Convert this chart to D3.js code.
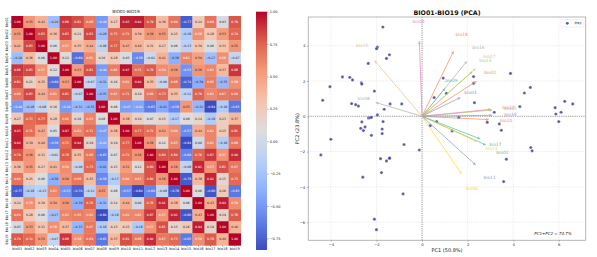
<!DOCTYPE html>
<html>
<head>
<meta charset="utf-8">
<script src="https://cdn.jsdelivr.net/npm/d3@7"></script>
<style>
  html, body { margin: 0; padding: 0; background: #fff; }
  svg { display: block; font-family: "DejaVu Sans", sans-serif; }
</style>
</head>
<body>
<svg id="chart" width="597" height="257"></svg>
<script>
// ---------------- DATA ----------------
const variables = ["bio01","bio02","bio03","bio04","bio05","bio06","bio07","bio08","bio09","bio10",
                   "bio11","bio12","bio13","bio14","bio15","bio16","bio17","bio18","bio19"];

const corr = [
 [1.00,0.55,0.42,-0.29,0.88,0.82,0.68,-0.49,0.27,0.93,0.94,0.79,0.36,0.69,-0.77,0.24,0.69,0.03,0.79],
 [0.55,1.00,0.83,0.36,0.83,0.21,0.83,-0.28,0.73,0.71,0.39,0.56,0.55,0.25,-0.18,0.58,0.28,0.53,0.74],
 [0.42,0.83,1.00,0.06,0.57,0.35,0.44,-0.08,0.77,0.47,0.40,0.31,0.27,0.06,-0.13,0.30,0.06,0.31,0.55],
 [-0.29,0.36,0.06,1.00,0.12,-0.69,0.61,0.16,0.28,0.05,-0.58,-0.02,0.41,-0.38,0.62,0.50,-0.27,0.58,-0.07],
 [0.88,0.83,0.57,0.12,1.00,0.53,0.81,-0.49,0.66,0.97,0.71,0.78,0.59,0.56,-0.53,0.56,0.62,0.37,0.88],
 [0.82,0.21,0.35,-0.69,0.53,1.00,-0.07,-0.32,0.16,0.62,0.94,0.35,-0.06,0.68,-0.74,-0.39,0.65,-0.33,0.58],
 [0.68,0.83,0.44,0.61,0.81,-0.07,1.00,-0.35,0.63,0.71,0.19,0.68,0.73,0.35,-0.12,0.76,0.62,0.67,0.69],
 [-0.49,-0.28,-0.08,0.16,-0.49,-0.32,-0.35,1.00,0.08,-0.47,-0.44,-0.63,-0.41,-0.58,0.55,-0.32,-0.84,-0.18,-0.65],
 [0.27,0.73,0.77,0.28,0.66,0.16,0.63,0.08,1.00,0.38,0.19,0.07,0.15,-0.17,0.08,0.14,-0.18,0.23,0.37],
 [0.93,0.71,0.47,0.05,0.97,0.62,0.71,-0.47,0.38,1.00,0.77,0.71,0.52,0.60,-0.57,0.44,0.62,0.25,0.81],
 [0.94,0.39,0.40,-0.58,0.71,0.94,0.19,-0.44,0.19,0.77,1.00,0.56,0.12,0.63,-0.84,0.00,0.62,-0.18,0.68],
 [0.79,0.56,0.31,-0.02,0.78,0.35,0.68,-0.63,0.07,0.71,0.56,1.00,0.80,0.80,-0.60,0.76,0.87,0.57,0.90],
 [0.36,0.55,0.27,0.41,0.59,-0.06,0.73,-0.41,0.15,0.52,0.12,0.80,1.00,0.56,-0.08,0.91,0.57,0.81,0.67],
 [0.69,0.25,0.06,-0.38,0.56,0.68,0.35,-0.58,-0.17,0.60,0.63,0.80,0.56,1.00,-0.78,0.38,0.92,0.15,0.73],
 [-0.77,-0.18,-0.13,0.62,-0.53,-0.74,-0.12,0.55,0.08,-0.57,-0.84,-0.60,-0.08,-0.78,1.00,0.06,-0.80,0.26,-0.65],
 [0.24,0.58,0.30,0.50,0.56,-0.39,0.76,-0.32,0.14,0.44,0.00,0.76,0.91,0.38,0.06,1.00,0.43,0.94,0.59],
 [0.69,0.28,0.06,-0.27,0.62,0.65,0.62,-0.84,-0.18,0.62,0.62,0.87,0.57,0.92,-0.80,0.43,1.00,0.19,0.78],
 [0.03,0.53,0.31,0.58,0.37,-0.33,0.67,-0.18,0.23,0.25,-0.18,0.57,0.81,0.15,0.26,0.94,0.19,1.00,0.40],
 [0.79,0.74,0.55,-0.07,0.88,0.58,0.69,-0.65,0.37,0.81,0.68,0.90,0.67,0.73,-0.65,0.59,0.78,0.40,1.00]
];

const colorbarTicks = [1.00, 0.75, 0.50, 0.25, 0.00, -0.25, -0.50, -0.75];

// PCA sample scores (PC1, PC2)
const scorePC1 = [-1.72,-1.96,-2.00,-1.43,-1.56,-2.36,-3.49,-3.17,-3.05,-4.04,-2.66,-2.64,-2.09,-4.36,-3.09,-2.91,-2.79,-1.40,-0.89,-1.66,
                  -1.96,-2.35,-2.28,-2.22,-2.64,-1.71,-2.69,-2.50,-2.57,-1.75,-1.75,-2.22,-4.00,-0.79,-0.12,-4.44,-1.82,-1.42,-1.43,-1.56,
                  -1.78,-2.60,-0.83,-2.09,-2.00,
                  0.36,0.53,0.93,1.07,0.64,2.26,2.26,3.88,4.75,4.49,2.30,4.29,3.17,6.26,6.61,5.84,5.87,6.10,6.00,1.61,
                  2.86,3.39,3.48,1.32,4.77,4.83,3.70,3.58];
const scorePC2 = [5.06,3.92,3.83,3.49,3.28,3.00,2.23,2.21,2.06,1.68,1.89,1.83,1.43,0.91,0.72,0.66,0.58,0.70,0.70,0.40,
                  0.08,-0.09,-0.08,-0.06,-0.32,-0.30,-0.68,-0.60,-0.81,-0.72,-0.98,-1.08,-1.30,-1.60,-1.91,-2.19,-2.40,-2.36,-2.38,-2.53,
                  -3.19,-3.45,-4.40,-5.83,-6.43,
                  -0.53,1.06,2.17,1.30,-0.30,2.25,1.87,2.43,1.64,1.32,0.77,0.55,0.23,0.85,0.70,0.49,0.13,0.23,-0.30,-0.06,
                  -0.34,-0.43,-0.79,-0.83,-1.77,-1.96,-2.43,-3.70];

// loadings (scaled) per variable
const loadPC1 = [2.82,2.40,1.70,-0.12,3.10,1.75,2.36,-2.05,1.03,2.95,2.37,3.03,2.22,2.44,-2.10,1.98,2.57,1.39,3.10];
const loadPC2 = [-1.64,2.00,1.08,4.28,0.36,-3.29,2.73,0.79,1.61,-0.19,-2.78,0.40,2.55,-1.46,3.19,3.14,-1.29,3.72,0.06];

const arrowPalette = ["#66c2a5","#fc8d62","#8da0cb","#e78ac3","#a6d854","#ffd92f","#e5c494","#b3b3b3"];

const pcXTicks = [-4,-2,0,2,4,6];
const pcYTicks = [-6,-4,-2,0,2,4];
const pc1Pct = 50.8, pc2Pct = 23.8, pcSumPct = 74.7;
const legendLabel = "样本点";
const heatTitle = "BIO01-BIO19";
const pcaTitle = "BIO01-BIO19  (PCA)";

// ---------------- HELPERS ----------------
const svg = d3.select("#chart");
const fmt2 = d3.format(".2f");
const uminus = s => s.replace("-", "\u2212");

// coolwarm colormap approximation
const coolwarmStops = ["#3b4cc0","#6282ea","#8db0fe","#b8d0f9","#dddddd","#f5c4ad","#f49a7b","#de604d","#b40426"];
const coolwarm = d3.piecewise(d3.interpolateRgb, coolwarmStops);
const vmin = d3.min(corr.flat()), vmax = d3.max(corr.flat());
const cnorm = d3.scaleLinear().domain([vmin, vmax]).range([0, 1]).clamp(true);
const colorOf = v => coolwarm(cnorm(v));
function luminance(c) {
  const r = d3.rgb(c);
  const f = x => { x /= 255; return x <= 0.03928 ? x / 12.92 : Math.pow((x + 0.055) / 1.055, 2.4); };
  return 0.2126 * f(r.r) + 0.7152 * f(r.g) + 0.0722 * f(r.b);
}

// ---------------- HEATMAP ----------------
const hm = { left: 11.3, top: 16, size: 229.4 };
const xb = d3.scaleBand().domain(variables).range([hm.left, hm.left + hm.size]);
const yb = d3.scaleBand().domain(variables).range([hm.top, hm.top + hm.size]);

const cells = [];
corr.forEach((row, i) => row.forEach((v, j) => cells.push({ r: variables[i], c: variables[j], v })));

const gh = svg.append("g");
gh.selectAll("rect.cell").data(cells).join("rect")
  .attr("x", d => xb(d.c)).attr("y", d => yb(d.r))
  .attr("width", xb.bandwidth() + 0.3).attr("height", yb.bandwidth() + 0.3)
  .attr("fill", d => colorOf(d.v));

gh.selectAll("text.annot").data(cells).join("text")
  .attr("x", d => xb(d.c) + xb.bandwidth() / 2)
  .attr("y", d => yb(d.r) + yb.bandwidth() / 2)
  .attr("text-anchor", "middle").attr("dominant-baseline", "central")
  .attr("font-size", 3.1)
  .attr("fill", d => luminance(colorOf(d.v)) > 0.408 ? "#262626" : "#ffffff")
  .text(d => fmt2(d.v));

// axes
const hx = gh.append("g").attr("transform", `translate(0,${hm.top + hm.size})`)
  .call(d3.axisBottom(xb).tickSize(1.5).tickPadding(1));
hx.select(".domain").remove();
hx.selectAll("line").attr("stroke", "#333").attr("stroke-width", 0.4);
hx.selectAll("text").attr("font-size", 3.6).attr("font-family", "DejaVu Sans").attr("fill", "#222");

const hy = gh.append("g").attr("transform", `translate(${hm.left},0)`)
  .call(d3.axisLeft(yb).tickSize(1.5).tickPadding(1));
hy.select(".domain").remove();
hy.selectAll("line").attr("stroke", "#333").attr("stroke-width", 0.4);
hy.selectAll("text").attr("font-size", 3.6).attr("font-family", "DejaVu Sans").attr("fill", "#222")
  .attr("text-anchor", "middle").attr("dy", null)
  .attr("transform", function() { return "translate(" + (-4.5) + ",0) rotate(-90)"; })
  .attr("x", 0).attr("dominant-baseline", "central");

gh.append("text").attr("x", hm.left + hm.size / 2).attr("y", 12.5)
  .attr("text-anchor", "middle").attr("font-size", 4.3).attr("fill", "#222").text(heatTitle);

// colorbar
const cb = { x: 256, y0: 11.7, y1: 250, w: 11 };
const cbScale = d3.scaleLinear().domain([vmin, vmax]).range([cb.y1, cb.y0]);
const defs = svg.append("defs");
const grad = defs.append("linearGradient").attr("id", "cbgrad")
  .attr("x1", 0).attr("y1", 1).attr("x2", 0).attr("y2", 0);
d3.range(0, 1.0001, 0.05).forEach(t => grad.append("stop").attr("offset", t).attr("stop-color", coolwarm(t)));
svg.append("rect").attr("x", cb.x).attr("y", cb.y0).attr("width", cb.w).attr("height", cb.y1 - cb.y0)
  .attr("fill", "url(#cbgrad)");
const cbAxis = svg.append("g").attr("transform", `translate(${cb.x + cb.w},0)`)
  .call(d3.axisRight(cbScale).tickValues(colorbarTicks).tickSize(1.5).tickPadding(1.2)
        .tickFormat(d => uminus(fmt2(d))));
cbAxis.select(".domain").remove();
cbAxis.selectAll("line").attr("stroke", "#333").attr("stroke-width", 0.4);
cbAxis.selectAll("text").attr("font-size", 3.5).attr("font-family", "DejaVu Sans").attr("fill", "#222");

// ---------------- PCA BIPLOT ----------------
const pa = { left: 308.3, right: 585.7, top: 17, bottom: 240.3 };
const px = d3.scaleLinear().domain([-4.99, 7.18]).range([pa.left, pa.right]);
const py = d3.scaleLinear().domain([-7.03, 5.63]).range([pa.bottom, pa.top]);

const gp = svg.append("g");
// grid
gp.selectAll("line.gx").data(pcXTicks).join("line")
  .attr("x1", d => px(d)).attr("x2", d => px(d)).attr("y1", pa.top).attr("y2", pa.bottom)
  .attr("stroke", "#d0d0d0").attr("stroke-width", 0.5).attr("stroke-dasharray", "1,1.2");
gp.selectAll("line.gy").data(pcYTicks).join("line")
  .attr("y1", d => py(d)).attr("y2", d => py(d)).attr("x1", pa.left).attr("x2", pa.right)
  .attr("stroke", "#d0d0d0").attr("stroke-width", 0.5).attr("stroke-dasharray", "1,1.2");
// zero lines
gp.append("line").attr("x1", px(0)).attr("x2", px(0)).attr("y1", pa.top).attr("y2", pa.bottom)
  .attr("stroke", "#9a9a9a").attr("stroke-width", 0.9).attr("stroke-dasharray", "1.2,1");
gp.append("line").attr("y1", py(0)).attr("y2", py(0)).attr("x1", pa.left).attr("x2", pa.right)
  .attr("stroke", "#9a9a9a").attr("stroke-width", 0.9).attr("stroke-dasharray", "1.2,1");

// points
const pts = scorePC1.map((x, i) => ({ x, y: scorePC2[i] }));
gp.selectAll("circle.pt").data(pts).join("circle")
  .attr("cx", d => px(d.x)).attr("cy", d => py(d.y)).attr("r", 1.6)
  .attr("fill", "#3535a0").attr("fill-opacity", 0.82)
  .attr("stroke", "#ffffff").attr("stroke-width", 0.3);

// arrows
const loads = variables.map((name, i) => ({ name, x: loadPC1[i], y: loadPC2[i], color: arrowPalette[i % arrowPalette.length] }));
const ga = gp.append("g");
loads.forEach(d => {
  const x0 = px(0), y0 = py(0), x1 = px(d.x), y1 = py(d.y);
  const ang = Math.atan2(y1 - y0, x1 - x0);
  const hl = 3.2, hw = 1.4;
  const bx = x1 - hl * Math.cos(ang), by = y1 - hl * Math.sin(ang);
  ga.append("line").attr("x1", x0).attr("y1", y0).attr("x2", bx).attr("y2", by)
    .attr("stroke", d.color).attr("stroke-width", 0.9).attr("stroke-opacity", 0.85);
  const p1 = [bx + hw * Math.sin(ang), by - hw * Math.cos(ang)];
  const p2 = [bx - hw * Math.sin(ang), by + hw * Math.cos(ang)];
  ga.append("path").attr("d", `M${x1},${y1}L${p1[0]},${p1[1]}L${p2[0]},${p2[1]}Z`)
    .attr("fill", d.color).attr("fill-opacity", 0.85);
});
ga.selectAll("text.lab").data(loads).join("text")
  .attr("x", d => px(d.x * 1.25)).attr("y", d => py(d.y * 1.25))
  .attr("text-anchor", "middle").attr("dominant-baseline", "central")
  .attr("font-size", 4.4).attr("fill", d => d.color).text(d => d.name);

// frame
gp.append("rect").attr("x", pa.left).attr("y", pa.top).attr("width", pa.right - pa.left).attr("height", pa.bottom - pa.top)
  .attr("fill", "none").attr("stroke", "#b0b0b0").attr("stroke-width", 0.9);

// axes ticks
const ax = gp.append("g").attr("transform", `translate(0,${pa.bottom})`)
  .call(d3.axisBottom(px).tickValues(pcXTicks).tickSize(1.5).tickPadding(1.5).tickFormat(d => uminus(String(d))));
ax.select(".domain").remove();
ax.selectAll("line").attr("stroke", "#555").attr("stroke-width", 0.4);
ax.selectAll("text").attr("font-size", 3.8).attr("font-family", "DejaVu Sans").attr("fill", "#333");
const ay = gp.append("g").attr("transform", `translate(${pa.left},0)`)
  .call(d3.axisLeft(py).tickValues(pcYTicks).tickSize(1.5).tickPadding(1.5).tickFormat(d => uminus(String(d))));
ay.select(".domain").remove();
ay.selectAll("line").attr("stroke", "#555").attr("stroke-width", 0.4);
ay.selectAll("text").attr("font-size", 3.8).attr("font-family", "DejaVu Sans").attr("fill", "#333");

// labels
gp.append("text").attr("x", (pa.left + pa.right) / 2).attr("y", 251.5).attr("text-anchor", "middle")
  .attr("font-size", 5).attr("fill", "#222").text(`PC1 (${pc1Pct}%)`);
gp.append("text").attr("transform", `translate(297,${(pa.top + pa.bottom) / 2}) rotate(-90)`)
  .attr("text-anchor", "middle").attr("dominant-baseline", "central")
  .attr("font-size", 5).attr("fill", "#222").text(`PC2 (${pc2Pct}%)`);
gp.append("text").attr("x", (pa.left + pa.right) / 2).attr("y", 15.3).attr("text-anchor", "middle")
  .attr("font-size", 6.3).attr("font-weight", "bold").attr("fill", "#111").text(pcaTitle);
gp.append("text").attr("x", 571.7).attr("y", 235).attr("text-anchor", "end")
  .attr("font-size", 4).attr("font-style", "italic").attr("fill", "#222")
  .text(`PC1+PC2 = ${pcSumPct}%`);

// legend
const lg = gp.append("g");
lg.append("rect").attr("x", 561).attr("y", 19.7).attr("width", 23).attr("height", 7.3).attr("rx", 0.8)
  .attr("fill", "#fff").attr("fill-opacity", 0.85).attr("stroke", "#d5d5d5").attr("stroke-width", 0.4);
lg.append("circle").attr("cx", 567.3).attr("cy", 23.3).attr("r", 1.4).attr("fill", "#3535a0").attr("fill-opacity", 0.82);
lg.append("text").attr("x", 574.5).attr("y", 23.4).attr("dominant-baseline", "central")
  .attr("font-size", 2.4).attr("font-family", "'Noto Sans CJK SC', sans-serif").attr("fill", "#333").text(legendLabel);
</script>
</body>
</html>
